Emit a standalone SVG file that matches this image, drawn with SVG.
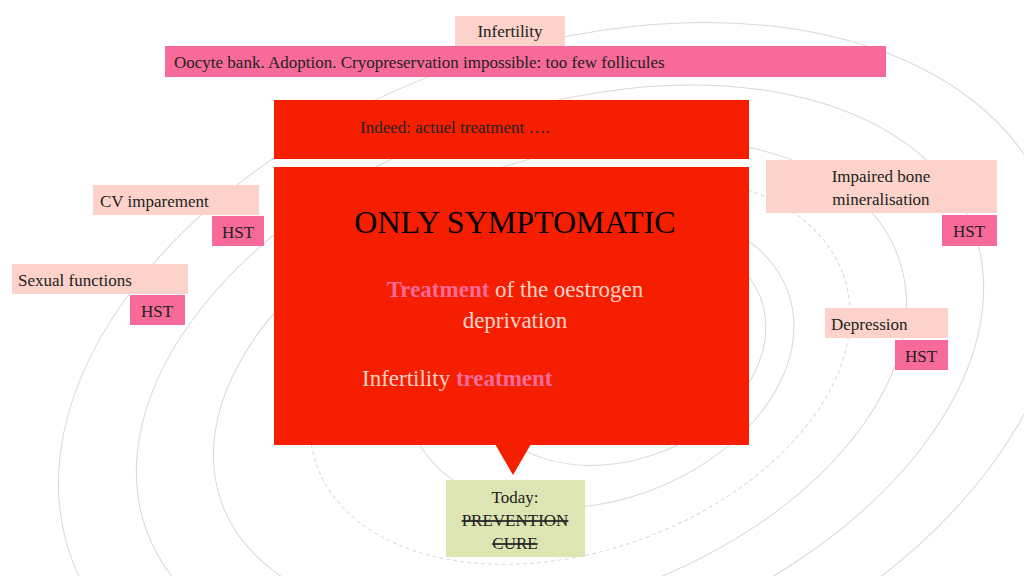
<svg xmlns="http://www.w3.org/2000/svg" width="1024" height="576" viewBox="0 0 1024 576">
<style>
text{font-family:"Liberation Serif","DejaVu Serif",serif;fill:#222}
.lp{fill:#fcd2cb}.pk{fill:#f76a9a}.rd{fill:#f51f00}
.bg{fill:none;stroke:#d8d8d8;stroke-width:1}
.s{font-size:17px}
</style>
<rect width="1024" height="576" fill="#fff"/>
<g id="background">
<ellipse class="bg" cx="560" cy="380" rx="520" ry="330" transform="rotate(-20 560 380)"/>
<ellipse class="bg" cx="560" cy="380" rx="440" ry="270" transform="rotate(-20 560 380)"/>
<ellipse class="bg" cx="560" cy="380" rx="360" ry="220" transform="rotate(-20 560 380)"/>
<ellipse class="bg" cx="580" cy="370" rx="280" ry="180" transform="rotate(-20 580 370)" stroke-dasharray="4 3"/>
<ellipse class="bg" cx="600" cy="360" rx="200" ry="140" transform="rotate(-20 600 360)"/>
<ellipse class="bg" cx="620" cy="350" rx="150" ry="110" transform="rotate(-20 620 350)"/>
</g>
<g id="infertility"><rect class="lp" x="455" y="16" width="110" height="30"/><text class="s" x="510" y="37" text-anchor="middle">Infertility</text></g>
<g id="oocyte"><rect class="pk" x="165" y="46" width="721" height="31"/><text class="s" x="174" y="68">Oocyte bank. Adoption. Cryopreservation impossible: too few follicules</text></g>
<g id="indeed"><rect class="rd" x="274" y="100" width="475" height="59"/><text class="s" x="360" y="133">Indeed: actuel treatment ….</text></g>
<g id="main">
<rect class="rd" x="274" y="167" width="475" height="278"/>
<polygon class="rd" points="495,444 531,444 513,475"/>
<text x="515" y="233" text-anchor="middle" font-size="32" style="fill:#000">ONLY SYMPTOMATIC</text>
<text x="515" y="297" text-anchor="middle" font-size="23" style="fill:#fcd2cb"><tspan font-weight="bold" style="fill:#f76a9a">Treatment</tspan> of the oestrogen</text>
<text x="515" y="328" text-anchor="middle" font-size="23" style="fill:#fcd2cb">deprivation</text>
<text x="362" y="386" font-size="23" style="fill:#fcd2cb">Infertility <tspan font-weight="bold" style="fill:#f76a9a">treatment</tspan></text>
</g>
<g id="today"><rect x="446" y="480" width="139" height="77" fill="#dde5b3"/>
<text class="s" x="515" y="503" text-anchor="middle">Today:</text>
<text class="s" x="515" y="526" text-anchor="middle" text-decoration="line-through">PREVENTION</text>
<text class="s" x="515" y="549" text-anchor="middle" text-decoration="line-through">CURE</text></g>
<g id="cv"><rect class="lp" x="93" y="185" width="166" height="30"/><text class="s" x="100" y="207">CV imparement</text></g>
<g id="hst1"><rect class="pk" x="212" y="216" width="52" height="30"/><text class="s" x="238" y="238" text-anchor="middle">HST</text></g>
<g id="sexual"><rect class="lp" x="12" y="264" width="176" height="30"/><text class="s" x="18" y="286">Sexual functions</text></g>
<g id="hst2"><rect class="pk" x="130" y="295" width="55" height="30"/><text class="s" x="157" y="317" text-anchor="middle">HST</text></g>
<g id="bone"><rect class="lp" x="766" y="160" width="231" height="53"/><text class="s" x="881" y="182" text-anchor="middle">Impaired bone</text><text class="s" x="881" y="205" text-anchor="middle">mineralisation</text></g>
<g id="hst3"><rect class="pk" x="942" y="215" width="55" height="31"/><text class="s" x="969" y="237" text-anchor="middle">HST</text></g>
<g id="depression"><rect class="lp" x="825" y="308" width="123" height="30"/><text class="s" x="831" y="330">Depression</text></g>
<g id="hst4"><rect class="pk" x="895" y="340" width="53" height="30"/><text class="s" x="921" y="362" text-anchor="middle">HST</text></g>
<g id="connectors"/>
</svg>
